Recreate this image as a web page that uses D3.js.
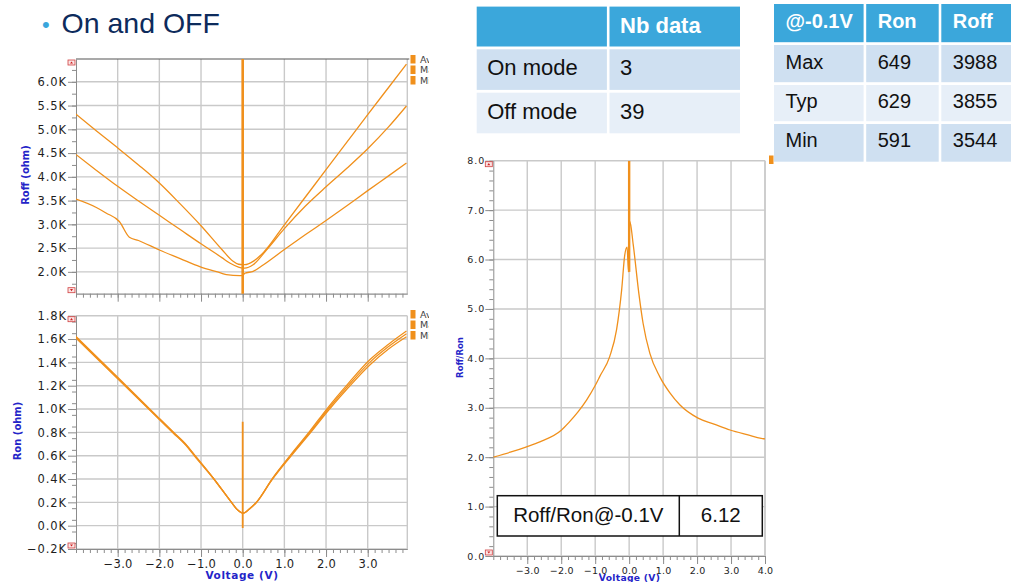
<!DOCTYPE html>
<html><head><meta charset="utf-8">
<script src="https://cdn.jsdelivr.net/npm/d3@7"></script>
<style>
html,body{margin:0;padding:0;background:#fff;}
svg{display:block;}
</style></head><body>
<svg id="c" width="1011" height="582"></svg>
<script>
// ---------------- DATA ----------------
const titleText = "On and OFF";
const voltTicks = [-3, -2, -1, 0, 1, 2, 3];
const ratioVoltTicks = [-3, -2, -1, 0, 1, 2, 3, 4];
const roffTicks = [2.0, 2.5, 3.0, 3.5, 4.0, 4.5, 5.0, 5.5, 6.0];
const ronTicks = [-0.2, 0.0, 0.2, 0.4, 0.6, 0.8, 1.0, 1.2, 1.4, 1.6, 1.8];
const ratioTicks = [0, 1, 2, 3, 4, 5, 6, 7, 8];
const legendNames = ["Avg", "Max", "Min"];

// Roff (kOhm) curves
const roffMaxV = [-4.0, -3.5, -3.0, -2.5, -2.0, -1.5, -1.0, -0.5, -0.24, -0.1, 0.0, 0.05, 0.25, 0.5, 1.0, 1.5, 2.0, 2.5, 3.0, 3.5, 3.93];
const roffMaxK = [5.32, 4.96, 4.61, 4.25, 3.87, 3.43, 2.97, 2.47, 2.23, 2.16, 2.15, 2.15, 2.22, 2.41, 2.99, 3.57, 4.15, 4.73, 5.31, 5.88, 6.37];
const roffTypV = [-4.0, -3.5, -3.0, -2.5, -2.0, -1.5, -1.0, -0.5, -0.3, -0.1, 0.0, 0.05, 0.25, 0.57, 1.0, 1.5, 2.0, 2.5, 3.0, 3.5, 3.93];
const roffTypK = [4.47, 4.13, 3.80, 3.49, 3.19, 2.89, 2.59, 2.30, 2.18, 2.10, 2.08, 2.08, 2.15, 2.46, 2.91, 3.38, 3.79, 4.18, 4.59, 5.05, 5.49];
const roffMinV = [-4.0, -3.5, -3.28, -2.96, -2.72, -2.5, -2.0, -1.5, -1.03, -0.5, -0.39, -0.07, 0.0, 0.05, 0.25, 0.5, 1.0, 1.5, 2.0, 2.5, 3.0, 3.5, 3.93];
const roffMinK = [3.53, 3.35, 3.24, 3.06, 2.73, 2.66, 2.46, 2.28, 2.11, 1.97, 1.94, 1.92, 1.92, 1.97, 2.01, 2.15, 2.47, 2.78, 3.08, 3.39, 3.71, 4.02, 4.29];
const roffSpikeK = [1.5, 6.5];

// Ron (kOhm) curves
const ronV = [-4.0, -3.0, -2.0, -1.67, -1.38, -1.15, -0.69, -0.27, -0.15, -0.05, 0.0, 0.05, 0.15, 0.33, 0.71, 1.15, 1.61, 2.05, 2.53, 3.05, 3.5, 3.93];
const ronMaxK = [1.622, 1.272, 0.920, 0.805, 0.705, 0.605, 0.402, 0.201, 0.146, 0.116, 0.109, 0.113, 0.142, 0.202, 0.404, 0.607, 0.810, 1.015, 1.218, 1.422, 1.555, 1.668];
const ronTypK = [1.615, 1.265, 0.915, 0.800, 0.700, 0.600, 0.400, 0.200, 0.145, 0.115, 0.108, 0.112, 0.140, 0.200, 0.400, 0.600, 0.800, 1.000, 1.200, 1.400, 1.535, 1.645];
const ronMinK = [1.608, 1.258, 0.910, 0.795, 0.695, 0.595, 0.398, 0.199, 0.144, 0.114, 0.107, 0.111, 0.138, 0.198, 0.396, 0.593, 0.790, 0.985, 1.182, 1.378, 1.515, 1.620];
const ronSpikeK = [-0.02, 0.89];

// Roff/Ron ratio
const ratioV = [-4.0, -3.5, -3.02, -2.63, -1.99, -1.79, -1.5, -1.25, -1.0, -0.86, -0.57, -0.37, -0.22, -0.13, -0.06, -0.02, 0.02, 0.12, 0.29, 0.41, 0.61, 0.9, 1.2, 1.49, 2.03, 2.5, 2.97, 3.5, 3.89, 4.0];
const ratioR = [2.0, 2.1, 2.21, 2.31, 2.55, 2.69, 2.92, 3.16, 3.45, 3.64, 4.04, 4.58, 5.39, 6.09, 6.25, 5.75, 6.77, 6.30, 5.29, 4.71, 4.10, 3.63, 3.30, 3.06, 2.79, 2.67, 2.55, 2.45, 2.38, 2.37];
const ratioSpike = [5.75, 8.0];

// Tables
const nbHeader = ["", "Nb data"];
const nbRows = [["On mode", "3"], ["Off mode", "39"]];
const statHeader = ["@-0.1V", "Ron", "Roff"];
const statRows = [["Max", "649", "3988"], ["Typ", "629", "3855"], ["Min", "591", "3544"]];
const ratioBox = ["Roff/Ron@-0.1V", "6.12"];

// ---------------- DRAW ----------------
const ORANGE = "#f0901c";
const GRID = "#c9c9c9";
const AX = "#8c8c8c";
const BLUE = "#2424c8";
const FONT = "DejaVu Sans, Verdana, sans-serif";
const AFONT = "Liberation Sans, Arial, sans-serif";

const svg = d3.select("#c");
const minus = s => s.replace("-", "\u2212");
const kFmt = d => minus(d.toFixed(1)) + "K";
const vFmt = d => minus(d.toFixed(1));

function chart(o) {
  const g = svg.append("g");
  const [x0, x1] = o.x.range();
  const [yb, yt] = o.y.range();
  g.append("g").selectAll("line").data(o.xTicks.concat([o.x.domain()[1]])).join("line")
    .attr("x1", d => o.x(d)).attr("x2", d => o.x(d)).attr("y1", yt).attr("y2", yb)
    .attr("stroke", GRID).attr("stroke-width", 1.4);
  g.append("g").selectAll("line").data(o.yTicks.concat(o.topGrid ? [o.y.domain()[1]] : [])).join("line")
    .attr("x1", x0).attr("x2", x1).attr("y1", d => o.y(d)).attr("y2", d => o.y(d))
    .attr("stroke", GRID).attr("stroke-width", 1.4);
  if (o.darkTop) {
    g.append("line").attr("x1", x0).attr("x2", x1 + 2).attr("y1", yt).attr("y2", yt)
      .attr("stroke", "#555").attr("stroke-width", 1.2);
  }
  const ym = g.append("g").attr("transform", `translate(${x0},0)`)
    .call(d3.axisLeft(o.y).tickValues(o.yMinor).tickSize(4).tickFormat(""));
  ym.select(".domain").remove();
  ym.selectAll("line").attr("stroke", AX);
  const xm = g.append("g").attr("transform", `translate(0,${yb})`)
    .call(d3.axisBottom(o.x).tickValues(o.xMinor).tickSize(4).tickFormat(""));
  xm.select(".domain").remove();
  xm.selectAll("line").attr("stroke", AX);
  const ya = g.append("g").attr("transform", `translate(${x0},0)`)
    .call(d3.axisLeft(o.y).tickValues(o.yTicks).tickSize(8).tickPadding(o.yPad).tickSizeOuter(0).tickFormat(o.yFmt));
  ya.select(".domain").attr("stroke", AX);
  ya.selectAll("line").attr("stroke", AX);
  ya.selectAll("text").attr("font-family", FONT).attr("font-size", o.yFs).attr("fill", "#1e1e1e")
    .attr("letter-spacing", o.yLs);
  const xa = g.append("g").attr("transform", `translate(0,${yb})`)
    .call(d3.axisBottom(o.x).tickValues(o.xTicks).tickSize(8).tickPadding(o.xPad).tickSizeOuter(0)
      .tickFormat(o.xFmt ? o.xFmt : ""));
  xa.select(".domain").attr("stroke", AX).attr("stroke-width", 1.2);
  xa.selectAll("line").attr("stroke", AX);
  xa.selectAll("text").attr("font-family", FONT).attr("font-size", o.xFs).attr("fill", "#1e1e1e")
    .attr("letter-spacing", o.xLs || 0);
  const id = "clip" + Math.random().toString(36).slice(2, 8);
  svg.append("clipPath").attr("id", id).append("rect")
    .attr("x", x0).attr("y", yt).attr("width", x1 - x0).attr("height", yb - yt);
  const plot = svg.append("g").attr("clip-path", `url(#${id})`);
  [[yt, 1], [yb, -1]].forEach(([yy, dir]) => {
    const mg = svg.append("g").attr("transform", `translate(${x0 - 8},${dir > 0 ? yy + 1 : yy - 6})`);
    mg.append("rect").attr("width", 7).attr("height", 5).attr("fill", "#fbe3e3").attr("stroke", "#d04040").attr("stroke-width", 0.8);
    mg.append("path").attr("d", dir > 0 ? "M2,3.6L3.5,1.4L5,3.6Z" : "M2,1.4L3.5,3.6L5,1.4Z").attr("fill", "#d02020");
  });
  return plot;
}

const line = (xs, ys, smooth) => d3.line().x(d => xs(d[0])).y(d => ys(d[1])).curve(smooth ? d3.curveMonotoneX : d3.curveLinear);
const zip = (a, b) => a.map((v, i) => [v, b[i]]);

// ---- Title ----
svg.append("text").attr("x", 42).attr("y", 32).attr("font-family", AFONT).attr("font-size", 22)
  .attr("fill", "#3aa6dc").text("\u2022");
svg.append("text").attr("x", 61.5).attr("y", 33.3).attr("font-family", AFONT).attr("font-size", 28.5)
  .attr("fill", "#0d2b5c").text(titleText);

// ---- Roff chart ----
const xL = d3.scaleLinear().domain([-4.0, 3.95]).range([76, 407.3]);
const yRoff = d3.scaleLinear().domain([1.54, 6.48]).range([293.7, 59]);
const p1 = chart({
  x: xL, y: yRoff, xTicks: voltTicks, yTicks: roffTicks,
  yMinor: d3.range(7, 26).map(i => i * 0.25), xMinor: d3.range(-24, 24).map(i => i / 6),
  yFmt: kFmt, xFmt: null, yFs: 11.5, yLs: 0.9, yPad: 1, xFs: 11, xPad: 3, darkTop: true
});
[[roffMaxV, roffMaxK], [roffTypV, roffTypK], [roffMinV, roffMinK]].forEach(([v, k]) => {
  p1.append("path").attr("d", line(xL, yRoff, true)(zip(v, k))).attr("fill", "none")
    .attr("stroke", ORANGE).attr("stroke-width", 1.3);
});
p1.append("path").attr("d", line(xL, yRoff)(zip([0, 0], roffSpikeK))).attr("stroke", ORANGE).attr("stroke-width", 2.6);

// ---- Ron chart ----
const yRon = d3.scaleLinear().domain([-0.2, 1.8]).range([549, 315.7]);
const p2 = chart({
  x: xL, y: yRon, xTicks: voltTicks, yTicks: ronTicks,
  yMinor: d3.range(-2, 18).map(i => i / 10 + 0.05).filter(d => d < 1.8), xMinor: d3.range(-24, 24).map(i => i / 6),
  yFmt: kFmt, xFmt: vFmt, yFs: 11.5, yLs: 0.9, yPad: 1, xFs: 11.5, xPad: 3, xLs: 0.3, darkTop: false
});
[ronMaxK, ronTypK, ronMinK].forEach(k => {
  p2.append("path").attr("d", line(xL, yRon, true)(zip(ronV, k))).attr("fill", "none")
    .attr("stroke", ORANGE).attr("stroke-width", 1.25);
});
p2.append("path").attr("d", line(xL, yRon)(zip([0, 0], ronSpikeK))).attr("stroke", ORANGE).attr("stroke-width", 1.8);

// ---- Ratio chart ----
const xR = d3.scaleLinear().domain([-4, 4]).range([493.3, 765]);
const yR = d3.scaleLinear().domain([0, 8]).range([556, 160.7]);
const p3 = chart({
  x: xR, y: yR, xTicks: ratioVoltTicks, yTicks: ratioTicks,
  yMinor: d3.range(0, 41).map(i => i * 0.2), xMinor: d3.range(-20, 21).map(i => i * 0.2),
  yFmt: d => d.toFixed(1), xFmt: vFmt, yFs: 9.5, yLs: 1, yPad: 0, xFs: 9.5, xPad: 3, xLs: 0.2, darkTop: false
});
p3.append("path").attr("d", line(xR, yR, true)(zip(ratioV, ratioR))).attr("fill", "none")
  .attr("stroke", ORANGE).attr("stroke-width", 1.3);
p3.append("path").attr("d", line(xR, yR)(zip([0, 0], ratioSpike))).attr("stroke", ORANGE).attr("stroke-width", 2.4);

// axis titles
const axTitle = (x, y, rot, txt, fs) => svg.append("text")
  .attr("transform", `translate(${x},${y}) rotate(${rot})`).attr("text-anchor", "middle")
  .attr("font-family", FONT).attr("font-weight", "bold").attr("font-size", fs).attr("fill", BLUE).text(txt);
axTitle(29, 175, -90, "Roff (ohm)", 10);
axTitle(21, 431, -90, "Ron (ohm)", 10);
axTitle(242, 579, 0, "Voltage (V)", 10.5).attr("letter-spacing", 0.6);
axTitle(463, 357.5, -90, "Roff/Ron", 8.5);
axTitle(629.5, 581, 0, "Voltage (V)", 9.2).attr("letter-spacing", 0.3);

// legends (clipped, as in the screenshot)
svg.append("clipPath").attr("id", "legclip").append("rect").attr("x", 405).attr("y", 0).attr("width", 24).attr("height", 582);
[[55, legendNames], [310, legendNames]].forEach(([y0, names]) => {
  const lg = svg.append("g").attr("clip-path", "url(#legclip)");
  names.forEach((n, i) => {
    lg.append("rect").attr("x", 410.5).attr("y", y0 + i * 10.5).attr("width", 5).attr("height", 8.5).attr("fill", ORANGE);
    lg.append("text").attr("x", 420).attr("y", y0 + i * 10.5 + 7.5).attr("font-family", FONT)
      .attr("font-size", 9.5).attr("fill", "#444").text(n);
  });
});
svg.append("rect").attr("x", 769).attr("y", 155.5).attr("width", 4.5).attr("height", 8.5).attr("fill", ORANGE);

// ratio value box
{
  const bx = 497.3, by = 495.7, bw = 265, bh = 40.3, div = 679.3;
  svg.append("rect").attr("x", bx).attr("y", by).attr("width", bw).attr("height", bh)
    .attr("fill", "#fff").attr("stroke", "#111").attr("stroke-width", 1.5);
  svg.append("line").attr("x1", div).attr("x2", div).attr("y1", by).attr("y2", by + bh).attr("stroke", "#111").attr("stroke-width", 1.5);
  svg.append("text").attr("x", (bx + div) / 2).attr("y", 522).attr("text-anchor", "middle")
    .attr("font-family", AFONT).attr("font-size", 20.5).attr("fill", "#111").text(ratioBox[0]);
  svg.append("text").attr("x", (div + bx + bw) / 2).attr("y", 522).attr("text-anchor", "middle")
    .attr("font-family", AFONT).attr("font-size", 20.5).attr("fill", "#111").text(ratioBox[1]);
}

// tables
function table(colX, rowY, header, rows, fs, padX, baseOff) {
  const HEAD = "#3ba7db", R1 = "#cfe0f1", R2 = "#e7eff8";
  const all = [header].concat(rows);
  all.forEach((r, ri) => {
    r.forEach((c, ci) => {
      svg.append("rect").attr("x", colX[ci]).attr("y", rowY[ri])
        .attr("width", colX[ci + 1] - colX[ci] - 2.6).attr("height", rowY[ri + 1] - rowY[ri] - 2.8)
        .attr("fill", ri === 0 ? HEAD : (ri % 2 === 1 ? R1 : R2));
      svg.append("text").attr("x", colX[ci] + padX).attr("y", rowY[ri] + baseOff[ri])
        .attr("font-family", AFONT).attr("font-size", fs)
        .attr("font-weight", ri === 0 ? "bold" : "normal")
        .attr("fill", ri === 0 ? "#fff" : "#111").text(c);
    });
  });
}
table([476.7, 609.5, 742.6], [6.6, 49.3, 92.7, 136.1], nbHeader, nbRows, 22, 10.5, [26.5, 26, 26]);
table([774, 866.2, 941.3, 1020], [4, 45, 85, 124, 164.5], statHeader, statRows, 20, 11.5, [24.3, 23.5, 23.3, 22.7]);
</script>
</body></html>
